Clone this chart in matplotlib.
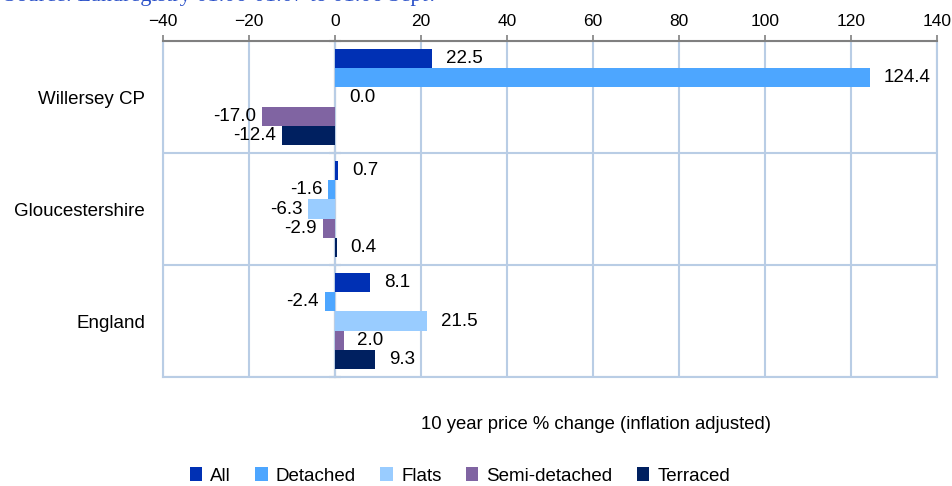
import matplotlib
matplotlib.use("Agg")
import matplotlib.pyplot as plt
import numpy as np

plt.rcParams['font.family'] = ['Liberation Sans', 'DejaVu Sans']

categories = ["Willersey CP", "Gloucestershire", "England"]
series_names = ["All", "Detached", "Flats", "Semi-detached", "Terraced"]
all_vals = [22.5, 0.7, 8.1]
detached_vals = [124.4, -1.6, -2.4]
flats_vals = [0.0, -6.3, 21.5]
semi_vals = [-17.0, -2.9, 2.0]
terraced_vals = [-12.4, 0.4, 9.3]
x_ticks = [-40, -20, 0, 20, 40, 60, 80, 100, 120, 140]
colors = ["#0030b4", "#4da6ff", "#99ccff", "#8064a2", "#002060"]
grid_color = "#b9cde5"

series = [all_vals, detached_vals, flats_vals, semi_vals, terraced_vals]

fig = plt.figure(figsize=(9.53, 4.86), dpi=100)
ax = fig.add_axes([163/953, 1-377/486, (937-163)/953, (377-41)/486])

y = np.arange(len(categories))
h = 0.17
for i, (name, vals, c) in enumerate(zip(series_names, series, colors)):
    pos = y + (i - 2) * h
    ax.barh(pos, vals, height=h, color=c, label=name, zorder=3)
    for p, v in zip(pos, vals):
        if v >= 0:
            ax.annotate(f"{v:.1f}", (v, p), xytext=(10, 0), textcoords="offset points",
                        ha="left", va="center", fontsize=13.5, zorder=4)
        else:
            ax.annotate(f"{v:.1f}", (v, p), xytext=(-4, 0), textcoords="offset points",
                        ha="right", va="center", fontsize=13.5, zorder=4)

ax.set_xlim(x_ticks[0], x_ticks[-1])
ax.set_ylim(len(categories) - 0.5, -0.5)
ax.set_xticks(x_ticks)
ax.xaxis.tick_top()
ax.tick_params(axis='x', direction='out', length=4, color='#808080', width=1.2,
               labelsize=12.5, pad=5)
ax.set_yticks(y)
ax.set_yticklabels(categories, fontsize=13.5)
ax.tick_params(axis='y', length=0, pad=13)

# gridlines
for xv in x_ticks:
    ax.axvline(xv, color=grid_color, lw=1.5, zorder=1)
for b in np.arange(len(categories) + 1) - 0.5:
    ax.axhline(b, color=grid_color, lw=1.5, zorder=1)

for s in ['left', 'right', 'bottom']:
    ax.spines[s].set_color(grid_color)
    ax.spines[s].set_linewidth(1.5)
ax.spines['top'].set_color('#808080')
ax.spines['top'].set_linewidth(1.5)

# zero axis line with category boundary ticks
sec = ax.secondary_yaxis((0 - x_ticks[0]) / (x_ticks[-1] - x_ticks[0]))
sec.set_yticks(np.arange(len(categories) + 1) - 0.5)
sec.set_yticklabels([])
sec.tick_params(direction='inout', length=8, color='#808080', width=1.5)
sec.spines['left'].set_color('#808080')
sec.spines['left'].set_linewidth(1.5)
sec.spines['left'].set_zorder(5)

fig.text(596/953, 1-424/486, "10 year price % change (inflation adjusted)",
         ha='center', va='center', fontsize=13.3)

leg = fig.legend(loc='center', bbox_to_anchor=(460/953, 1-476/486), ncol=5,
                 frameon=False, fontsize=13.5, handlelength=0.65, handleheight=0.7,
                 columnspacing=1.3, handletextpad=0.45)

fig.text(0.004, 1-1/486, "Source: Landregistry 01.06-01.07 to 01.06 Sept?",
         ha='left', va='baseline', fontsize=16, color='#2a50c8',
         family=['Liberation Serif', 'DejaVu Serif'])

fig.savefig("out.png", dpi=100)
